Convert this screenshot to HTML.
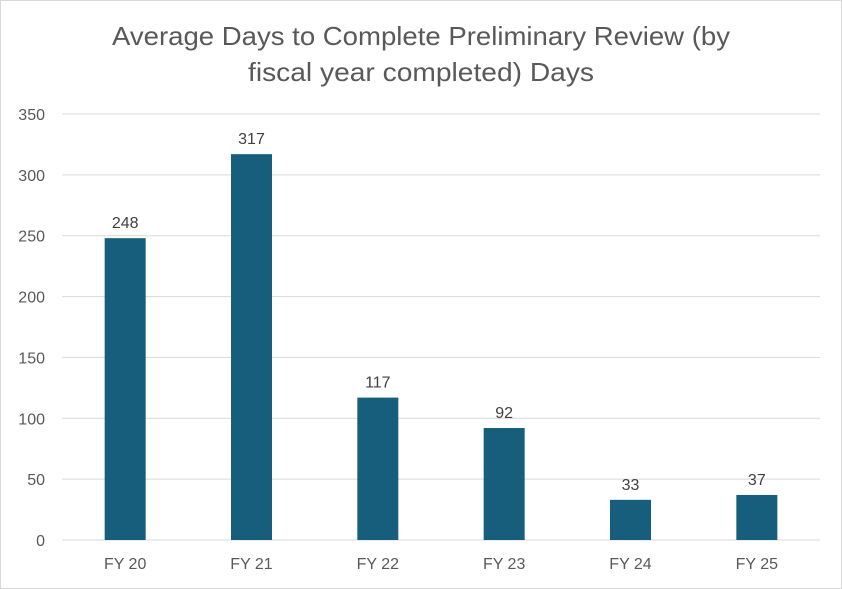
<!DOCTYPE html>
<html><head><meta charset="utf-8"><style>
html,body{margin:0;padding:0;background:#fff}
svg{display:block;font-family:"Liberation Sans",sans-serif}
</style></head><body>
<svg id="chart" width="842" height="589">
<rect x="0.5" y="0.5" width="841" height="588" fill="#fff" stroke="#d9d9d9"/>
<text x="421" y="45" text-anchor="middle" font-size="26" fill="#595959" textLength="618" lengthAdjust="spacingAndGlyphs">Average Days to Complete Preliminary Review (by</text>
<text x="421" y="81" text-anchor="middle" font-size="26" fill="#595959" textLength="346" lengthAdjust="spacingAndGlyphs">fiscal year completed) Days</text>
<g id="grid"></g><g id="bars"></g><g id="labels"></g>
</svg>
<script>
const categories=["FY 20","FY 21","FY 22","FY 23","FY 24","FY 25"];
const values=[248,317,117,92,33,37];
const yTicks=[0,50,100,150,200,250,300,350];
const NS="http://www.w3.org/2000/svg";
const x0=62,x1=820,yBase=540,yTop=114,yMax=350;
const band=(x1-x0)/categories.length,barW=41;
function y(v){return yBase-(v/yMax)*(yBase-yTop);}
function xc(i){return x0+band*(i+0.5);}
function mk(tag,attrs,parent,text){const e=document.createElementNS(NS,tag);for(const k in attrs)e.setAttribute(k,attrs[k]);if(text!==undefined)e.textContent=text;document.getElementById(parent).appendChild(e);return e;}
yTicks.forEach(t=>{
  const l=mk("line",{x1:x0,x2:x1,y1:y(t),y2:y(t),stroke:"#d9d9d9","stroke-width":1},"grid");
  
  
  const tx=mk("text",{x:45,y:y(t)+6,"text-anchor":"end","font-size":16,fill:"#595959"},"labels",t);
  
  
});
categories.forEach((c,i)=>{
  const v=values[i];
  const r=mk("rect",{x:xc(i)-barW/2,y:y(v),width:barW,height:yBase-y(v),fill:"#175e7d"},"bars");
  
  
  const vl=mk("text",{x:xc(i),y:y(v)-10,"text-anchor":"middle","font-size":16,fill:"#404040"},"labels",v);
  
  
  const cl=mk("text",{x:xc(i),y:569,"text-anchor":"middle","font-size":16,fill:"#595959"},"labels",c);
  
  
});
</script>
</body></html>
